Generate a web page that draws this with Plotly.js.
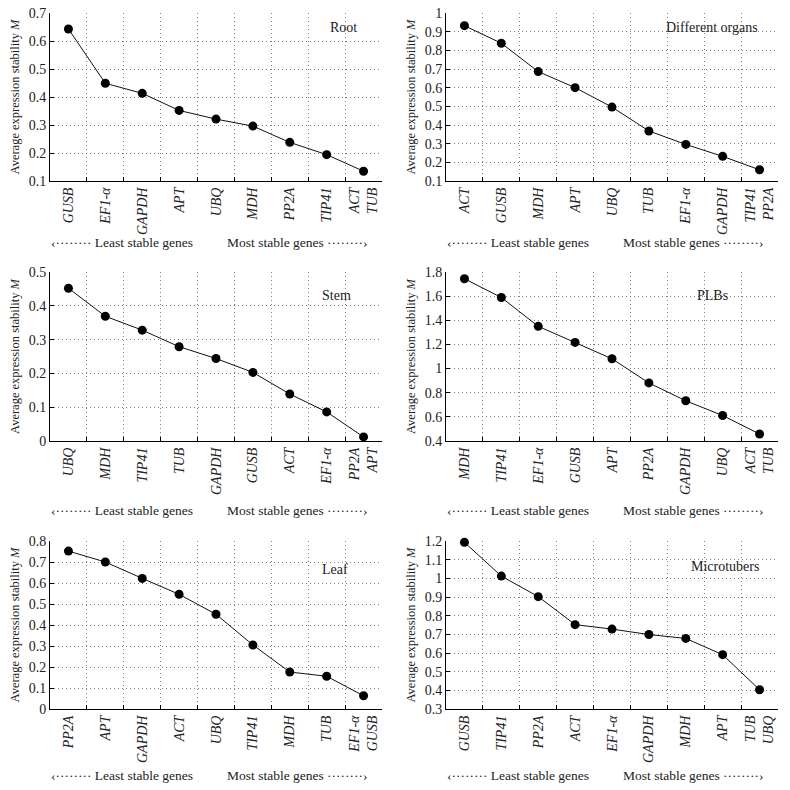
<!DOCTYPE html>
<html>
<head>
<meta charset="utf-8">
<script src="https://cdn.plot.ly/plotly-3.0.1.min.js"></script>
<style>html,body{margin:0;padding:0;background:#fff;}#chart{width:790px;height:790px;}</style>
</head>
<body>
<div id="chart"></div>
<script>
// ---- Data ----
const rootGenes = ["GUSB","EF1-α","GAPDH","APT","UBQ","MDH","PP2A","TIP41","ACT|TUB"];
const rootM     = [0.643,0.449,0.413,0.352,0.321,0.296,0.238,0.194,0.135];

const organGenes = ["ACT","GUSB","MDH","APT","UBQ","TUB","EF1-α","GAPDH","TIP41|PP2A"];
const organM     = [0.932,0.838,0.686,0.600,0.496,0.368,0.296,0.232,0.160];

const stemGenes = ["UBQ","MDH","TIP41","TUB","GAPDH","GUSB","ACT","EF1-α","PP2A|APT"];
const stemM     = [0.452,0.369,0.328,0.279,0.244,0.203,0.139,0.086,0.012];

const plbGenes = ["MDH","TIP41","EF1-α","GUSB","APT","PP2A","GAPDH","UBQ","ACT|TUB"];
const plbM     = [1.744,1.589,1.350,1.217,1.081,0.881,0.733,0.611,0.458];

const leafGenes = ["PP2A","APT","GAPDH","ACT","UBQ","TIP41","MDH","TUB","EF1-α|GUSB"];
const leafM     = [0.752,0.700,0.622,0.546,0.451,0.305,0.176,0.156,0.063];

const microGenes = ["GUSB","TIP41","PP2A","ACT","EF1-α","GAPDH","MDH","APT","TUB|UBQ"];
const microM     = [1.193,1.012,0.902,0.752,0.728,0.699,0.678,0.591,0.403];

const panelTitles = ["Root","Different organs","Stem","PLBs","Leaf","Microtubers"];
const yRanges = [[0.1,0.7],[0.1,1.0],[0,0.5],[0.4,1.8],[0,0.8],[0.3,1.2]];
const yDticks = [0.1,0.1,0.1,0.2,0.1,0.1];
const leastLabel = "‹········ Least stable genes";
const mostLabel  = "Most stable genes ········›";
const yTitle = "Average expression stability <i>M</i>";

// ---- Build ----
const serif = "Liberation Serif, Times New Roman, serif";
const fmt = g => g.split("|").map(s => "<i>" + s + "</i>").join("<br>");
const panels = [
  [rootGenes, rootM], [organGenes, organM], [stemGenes, stemM],
  [plbGenes, plbM], [leafGenes, leafM], [microGenes, microM]
];
const W = 790, H = 790;
const xDom = [[50/W, 382/W], [446/W, 778/W]];
const yDomPx = [[13,181],[272,441],[541,709]];
const titlePos = [[343,28],[712,28],[336,295],[712,295],[335,569],[725,566]];
const arrowY = [243, 510, 775];
const gridDash = "1px,3px";

const traces = [];
const layout = {
  width: W, height: H,
  margin: {l:0, r:0, t:0, b:0},
  paper_bgcolor: "#fff", plot_bgcolor: "#fff",
  showlegend: false,
  font: {family: serif, color: "#222", size: 13},
  annotations: []
};

panels.forEach((p, i) => {
  const col = i % 2, row = Math.floor(i / 2);
  const n = i === 0 ? "" : String(i + 1);
  const cats = p[0].map(fmt);
  traces.push({
    x: cats, y: p[1], type: "scatter", mode: "lines+markers",
    xaxis: "x" + n, yaxis: "y" + n,
    line: {color: "#111", width: 1},
    marker: {color: "#000", size: 9},
    cliponaxis: false
  });
  const yd = yDomPx[row];
  layout["xaxis" + n] = {
    domain: xDom[col], anchor: "y" + n,
    type: "category", categoryorder: "array", categoryarray: cats,
    range: [-0.5, 8.5],
    tickson: "boundaries",
    ticks: "inside", ticklen: 4, tickcolor: "#000",
    showgrid: true, gridcolor: "#808080", griddash: gridDash, gridwidth: 1,
    showline: true, linecolor: "#000", linewidth: 1,
    tickangle: -90,
    tickfont: {family: serif, size: 14, color: "#222"},
    zeroline: false, fixedrange: true
  };
  layout["yaxis" + n] = {
    domain: [1 - yd[1]/H, 1 - yd[0]/H], anchor: "x" + n,
    range: yRanges[i], dtick: yDticks[i], tick0: 0,
    ticks: "inside", ticklen: 4, tickcolor: "#000",
    showgrid: true, gridcolor: "#808080", griddash: gridDash, gridwidth: 1,
    showline: true, linecolor: "#000", linewidth: 1,
    zeroline: false,
    tickfont: {family: serif, size: 14, color: "#222"},
    title: {text: yTitle, font: {family: serif, size: 12.5, color: "#222"}, standoff: 6},
    fixedrange: true
  };
  layout.annotations.push({
    text: panelTitles[i], xref: "paper", yref: "paper",
    x: titlePos[i][0]/W, y: 1 - titlePos[i][1]/H,
    showarrow: false, xanchor: "center", yanchor: "middle",
    font: {family: serif, size: 14, color: "#222"}
  });
  const x0 = xDom[col][0]*W;
  layout.annotations.push({
    text: leastLabel, xref: "paper", yref: "paper",
    x: (x0 + 72)/W, y: 1 - arrowY[row]/H,
    showarrow: false, xanchor: "center", yanchor: "middle",
    font: {family: serif, size: 13.5, color: "#222"}
  });
  layout.annotations.push({
    text: mostLabel, xref: "paper", yref: "paper",
    x: (x0 + 247)/W, y: 1 - arrowY[row]/H,
    showarrow: false, xanchor: "center", yanchor: "middle",
    font: {family: serif, size: 13.5, color: "#222"}
  });
});

Plotly.newPlot("chart", traces, layout, {staticPlot: true});
</script>
</body>
</html>
